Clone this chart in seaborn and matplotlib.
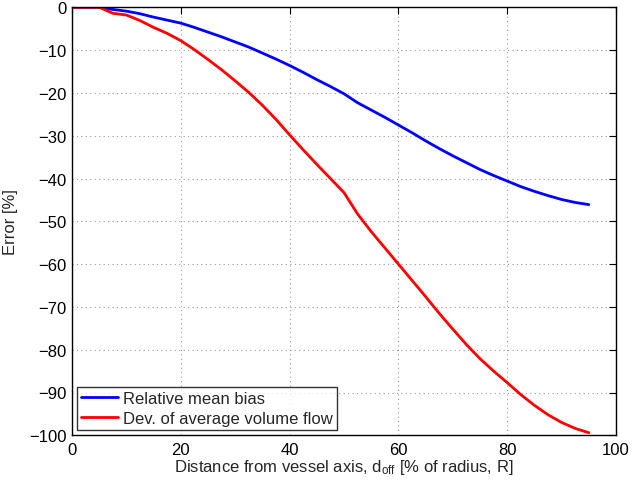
import matplotlib
matplotlib.use("Agg")
import matplotlib.pyplot as plt
import seaborn as sns
import pandas as pd
from matplotlib.lines import Line2D

# data
distance = [0, 5, 7.5, 10, 12.5, 15, 17.5, 20, 22.5, 25, 27.5, 30, 32.5, 35, 37.5,
            40, 42.5, 45, 47.5, 50, 52.5, 55, 57.5, 60, 62.5, 65, 67.5, 70, 72.5,
            75, 77.5, 80, 82.5, 85, 87.5, 90, 92.5, 95]
mean_bias = [0, 0, -0.5, -0.9, -1.5, -2.3, -3.0, -3.7, -4.7, -5.8, -6.9, -8.1, -9.3,
             -10.7, -12.1, -13.6, -15.2, -16.9, -18.5, -20.2, -22.3, -24.0, -25.7,
             -27.5, -29.3, -31.2, -33.0, -34.7, -36.3, -37.9, -39.3, -40.6, -41.9,
             -43.0, -44.0, -44.9, -45.6, -46.1]
flow_dev = [0, 0, -1.4, -1.8, -3.1, -4.7, -6.1, -7.8, -9.9, -12.2, -14.6, -17.2,
            -19.9, -22.9, -26.2, -29.8, -33.3, -36.7, -40.0, -43.3, -48.3, -52.4,
            -56.2, -60.0, -63.8, -67.6, -71.5, -75.2, -78.8, -82.1, -85.0, -87.7,
            -90.5, -93.0, -95.2, -97.0, -98.4, -99.4]
series_names = ["Relative mean bias", "Dev. of average volume flow"]
series_colors = ["#0000ff", "#ff0000"]
x_ticks = [0, 20, 40, 60, 80, 100]
y_ticks = [0, -10, -20, -30, -40, -50, -60, -70, -80, -90, -100]

df = pd.concat([
    pd.DataFrame({"x": distance, "y": mean_bias, "series": series_names[0]}),
    pd.DataFrame({"x": distance, "y": flow_dev, "series": series_names[1]}),
])

sns.set_style("white")
plt.rcParams["font.family"] = ["Liberation Sans", "DejaVu Sans"]
plt.rcParams["mathtext.fontset"] = "custom"
plt.rcParams["mathtext.rm"] = "Liberation Sans"
plt.rcParams["mathtext.it"] = "Liberation Sans:italic"

fig = plt.figure(figsize=(6.32, 4.85), dpi=100)
ax = fig.add_axes([72 / 632, 1 - 436.3 / 485, (616 - 72) / 632, (436.3 - 8.3) / 485])

sns.lineplot(data=df, x="x", y="y", hue="series", palette=series_colors,
             linewidth=2, ax=ax, legend=False, sort=False, estimator=None)

ax.set_xlim(0, 100)
ax.set_ylim(-100, 0)
ax.set_xticks(x_ticks)
ax.set_yticks(y_ticks)
ax.grid(True, linestyle=(0, (1, 3)), color="#999999", linewidth=0.8)
for s in ax.spines.values():
    s.set_color("black")
    s.set_linewidth(1.0)
    s.set_visible(True)
ax.tick_params(direction="in", length=5, width=0.8, colors="black",
               labelsize=12, top=True, right=True, pad=4)
ax.tick_params(axis="x", pad=5)
ax.set_xlabel(r"Distance from vessel axis, d$_{\mathrm{off}}$ [% of radius, R]",
              fontsize=12, labelpad=0)
ax.set_ylabel("Error [%]", fontsize=12, labelpad=8)

handles = [Line2D([], [], color=c, linewidth=2) for c in series_colors]
leg = ax.legend(handles, series_names, loc="lower left", fontsize=12,
                frameon=True, fancybox=False, edgecolor="black",
                borderaxespad=0.3, handlelength=2.2, borderpad=0.25,
                labelspacing=0.32, handletextpad=0.3)
leg.get_frame().set_linewidth(1.0)

fig.savefig("out.png", dpi=100, facecolor="white")
